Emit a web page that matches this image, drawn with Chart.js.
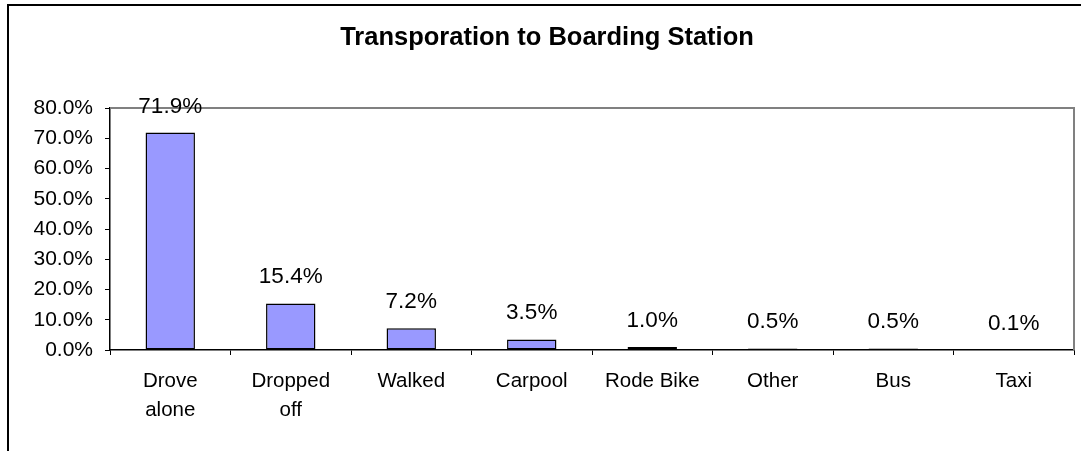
<!DOCTYPE html>
<html lang="en">
<head>
    <meta charset="UTF-8">
    <title>Transporation to Boarding Station</title>
    <script src="https://cdn.jsdelivr.net/npm/chart.js"></script>
    <style>
        body { margin: 0; background: #fff; }
        .caixa { position: relative; width: 1081px; height: 451px; }
    </style>
</head>
<body>
    <div class="caixa">
        <canvas id="grafico"></canvas>
    </div>

<script>
    // dados
    const categorias = [['Drove', 'alone'], ['Dropped', 'off'], 'Walked', 'Carpool', 'Rode Bike', 'Other', 'Bus', 'Taxi'];
    const percentuais = [71.9, 15.4, 7.2, 3.5, 1.0, 0.5, 0.5, 0.1];
    const tituloGrafico = 'Transporation to Boarding Station';

    const fonte = "'Liberation Sans', Arial, sans-serif";

    // moldura externa, titulo e bordas cinzas da area do grafico
    const moldura = {
        id: 'moldura',
        beforeDraw(chart) {
            const ctx = chart.ctx;
            ctx.save();
            ctx.fillStyle = '#fff';
            ctx.fillRect(0, 0, chart.width, chart.height);
            ctx.strokeStyle = '#000';
            ctx.lineWidth = 2;
            ctx.beginPath();
            ctx.moveTo(8, chart.height);
            ctx.lineTo(8, 5);
            ctx.lineTo(chart.width, 5);
            ctx.stroke();

            ctx.fillStyle = '#000';
            ctx.font = 'bold 25.5px ' + fonte;
            ctx.textAlign = 'center';
            ctx.textBaseline = 'alphabetic';
            ctx.fillText(tituloGrafico, 547, 45);
            ctx.restore();
        },
        afterDatasetsDraw(chart) {
            const ctx = chart.ctx;
            const area = chart.chartArea;
            ctx.save();
            ctx.strokeStyle = '#808080';
            ctx.lineWidth = 2;
            ctx.beginPath();
            ctx.moveTo(area.left, area.top);
            ctx.lineTo(area.right, area.top);
            ctx.lineTo(area.right, area.bottom);
            ctx.stroke();

            // rotulos de valor acima das barras
            ctx.fillStyle = '#000';
            ctx.font = '22.5px ' + fonte;
            ctx.textAlign = 'center';
            ctx.textBaseline = 'alphabetic';
            chart.getDatasetMeta(0).data.forEach(function (barra, i) {
                ctx.fillText(percentuais[i].toFixed(1) + '%', barra.x, barra.y - 20);
            });
            ctx.restore();
        }
    };

    const config = {
        type: 'bar',
        data: {
            labels: categorias,
            datasets: [{
                data: percentuais,
                backgroundColor: '#9999FF',
                borderColor: '#000',
                borderWidth: 1.5,
                borderSkipped: false,
                barPercentage: 0.41,
                categoryPercentage: 1
            }]
        },
        options: {
            responsive: true,
            maintainAspectRatio: false,
            animation: false,
            layout: { padding: { left: 0, top: 108, right: 7, bottom: 0 } },
            plugins: {
                legend: { display: false },
                title: { display: false },
                tooltip: { enabled: false }
            },
            scales: {
                x: {
                    afterFit(scale) { scale.height = 101; },
                    grid: { drawOnChartArea: false, drawTicks: true, tickLength: 5, color: '#000', offset: true },
                    border: { display: true, color: '#000', width: 1.5 },
                    ticks: {
                        color: '#000',
                        padding: 12,
                        maxRotation: 0,
                        autoSkip: false,
                        font: { family: fonte, size: 20.5, lineHeight: 1.4 }
                    }
                },
                y: {
                    min: 0,
                    max: 80,
                    afterFit(scale) { scale.width = 110; },
                    grid: { drawOnChartArea: false, drawTicks: true, tickLength: 5, color: '#000' },
                    border: { display: true, color: '#000', width: 1.5 },
                    ticks: {
                        stepSize: 10,
                        color: '#000',
                        padding: 12,
                        font: { family: fonte, size: 21 },
                        callback: function (v) { return v.toFixed(1) + '%'; }
                    }
                }
            }
        },
        plugins: [moldura]
    };

    new Chart(document.getElementById('grafico'), config);
</script>
</body>
</html>
